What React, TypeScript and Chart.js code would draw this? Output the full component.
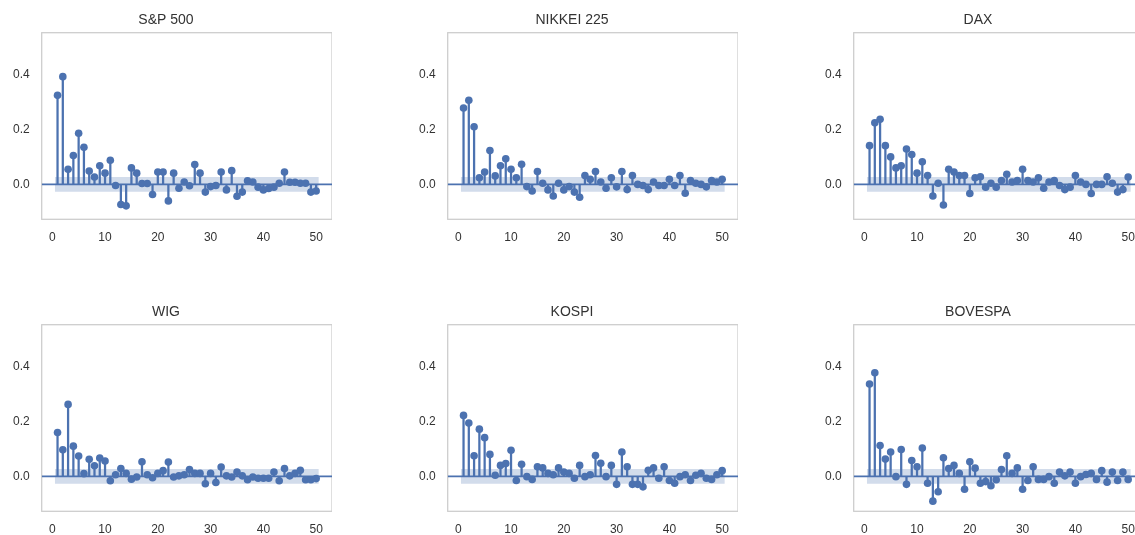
import React, { useEffect, useRef } from "react";
import { Chart, registerables } from "chart.js";

Chart.register(...registerables);

const LAGS = [
  1, 2, 3, 4, 5, 6, 7, 8, 9, 10, 11, 12, 13, 14, 15, 16, 17, 18, 19, 20, 21, 22, 23, 24, 25,
  26, 27, 28, 29, 30, 31, 32, 33, 34, 35, 36, 37, 38, 39, 40, 41, 42, 43, 44, 45, 46, 47, 48, 49, 50,
];
const X_TICKS = [0, 10, 20, 30, 40, 50];
const Y_TICKS = [0, 0.2, 0.4];
const X_RANGE = [-2, 53];
const Y_RANGE = [-0.127, 0.552];
const BAND_X = [0.5, 50.5];
const CONF = 0.027;

const SP500 = [
  0.324, 0.392, 0.055, 0.105, 0.186, 0.135, 0.049, 0.027, 0.068, 0.041,
  0.088, -0.004, -0.073, -0.078, 0.06, 0.041, 0.003, 0.003, -0.037, 0.045,
  0.045, -0.06, 0.041, -0.014, 0.009, -0.005, 0.072, 0.041, -0.028, -0.008,
  -0.004, 0.045, -0.02, 0.05, -0.043, -0.028, 0.013, 0.009, -0.01, -0.02,
  -0.015, -0.01, 0.004, 0.045, 0.008, 0.008, 0.004, 0.004, -0.028, -0.024,
];
const NIKKEI = [
  0.278, 0.306, 0.21, 0.024, 0.045, 0.123, 0.031, 0.068, 0.093, 0.055,
  0.024, 0.073, -0.008, -0.024, 0.047, 0.004, -0.02, -0.042, 0.004, -0.02,
  -0.008, -0.028, -0.047, 0.032, 0.019, 0.047, 0.009, -0.014, 0.024, -0.009,
  0.047, -0.019, 0.032, 0.0, -0.004, -0.019, 0.009, -0.004, -0.004, 0.019,
  -0.004, 0.032, -0.032, 0.014, 0.004, 0.0, -0.009, 0.014, 0.009, 0.019,
];
const DAX = [
  0.141, 0.224, 0.237, 0.141, 0.1, 0.06, 0.068, 0.129, 0.109, 0.041,
  0.082, 0.032, -0.042, 0.004, -0.075, 0.055, 0.045, 0.032, 0.032, -0.033,
  0.024, 0.028, -0.01, 0.004, -0.01, 0.014, 0.037, 0.009, 0.014, 0.055,
  0.014, 0.009, 0.024, -0.014, 0.009, 0.014, -0.004, -0.019, -0.01, 0.032,
  0.009, 0.0, -0.033, 0.0, 0.0, 0.028, 0.004, -0.028, -0.019, 0.027,
];
const WIG = [
  0.16, 0.097, 0.262, 0.11, 0.074, 0.01, 0.062, 0.039, 0.067, 0.056,
  -0.016, 0.006, 0.029, 0.011, -0.01, -0.002, 0.053, 0.006, -0.005, 0.011,
  0.021, 0.052, -0.002, 0.002, 0.006, 0.025, 0.011, 0.011, -0.027, 0.011,
  -0.022, 0.034, 0.002, -0.002, 0.016, 0.002, -0.012, -0.002, -0.007, -0.007,
  -0.007, 0.016, -0.016, 0.029, 0.002, 0.011, 0.022, -0.012, -0.012, -0.008,
];
const KOSPI = [
  0.222, 0.194, 0.075, 0.172, 0.141, 0.08, 0.004, 0.04, 0.047, 0.095,
  -0.015, 0.044, -0.001, -0.011, 0.035, 0.031, 0.011, 0.006, 0.031, 0.016,
  0.011, -0.007, 0.04, -0.001, 0.006, 0.076, 0.048, -0.001, 0.04, -0.029,
  0.089, 0.035, -0.029, -0.029, -0.038, 0.022, 0.031, -0.007, 0.035, -0.015,
  -0.025, -0.001, 0.006, -0.015, 0.004, 0.011, -0.007, -0.011, 0.006, 0.021,
];
const BOVESPA = [
  0.336, 0.377, 0.112, 0.063, 0.089, -0.001, 0.098, -0.029, 0.058, 0.035,
  0.103, -0.025, -0.09, -0.056, 0.068, 0.029, 0.04, 0.011, -0.047, 0.053,
  0.03, -0.025, -0.019, -0.034, -0.012, 0.025, 0.075, 0.011, 0.031, -0.047,
  -0.015, 0.035, -0.011, -0.011, -0.001, -0.025, 0.016, 0.002, 0.016, -0.025,
  -0.001, 0.007, 0.011, -0.011, 0.021, -0.021, 0.016, -0.015, 0.016, -0.011,
];

const BLUE = "#4c72b0";
const BAND = "rgba(76,114,176,0.25)";
const TEXT = "#333333";
const FONT = "'Liberation Sans', Arial, sans-serif";

const framePlugin = {
  id: "frame",
  beforeDatasetsDraw(chart: any) {
    const { ctx, chartArea } = chart;
    ctx.save();
    ctx.strokeStyle = "#cccccc";
    ctx.lineWidth = 1.25;
    ctx.strokeRect(chartArea.left, chartArea.top, chartArea.right - chartArea.left, chartArea.bottom - chartArea.top);
    ctx.restore();
  },
};

function Panel({ title, values, left, top }: { title: string; values: number[]; left: number; top: number }) {
  const ref = useRef<HTMLCanvasElement>(null);
  useEffect(() => {
    if (!ref.current) return;
    const pts = values.map((v, i) => ({ x: LAGS[i], y: v }));
    const chart = new Chart(ref.current, {
      type: "scatter",
      data: {
        datasets: [
          { type: "scatter", data: pts, pointRadius: 3.8, pointHoverRadius: 3.8, backgroundColor: BLUE, borderWidth: 0, order: 0 } as any,
          { type: "bar", data: pts, backgroundColor: BLUE, barThickness: 1.6, order: 1 } as any,
          { type: "line", data: X_RANGE.map((x) => ({ x, y: 0 })), borderColor: BLUE, borderWidth: 1.8, pointRadius: 0, order: 2 } as any,
          { type: "line", data: BAND_X.map((x) => ({ x, y: CONF })), borderWidth: 0, pointRadius: 0, fill: "+1", backgroundColor: BAND, order: 3 } as any,
          { type: "line", data: BAND_X.map((x) => ({ x, y: -CONF })), borderWidth: 0, pointRadius: 0, fill: false, order: 4 } as any,
        ],
      },
      options: {
        animation: false,
        responsive: false,
        events: [],
        layout: { padding: 0, autoPadding: false },
        plugins: {
          legend: { display: false },
          tooltip: { enabled: false },
          title: {
            display: true,
            text: title,
            color: TEXT,
            font: { size: 14, family: FONT, weight: "normal" as any },
            padding: { top: 11.6, bottom: 4.3 },
          },
        },
        scales: {
          x: {
            type: "linear",
            min: X_RANGE[0],
            max: X_RANGE[1],
            offset: false,
            grid: { display: false, drawTicks: false },
            border: { display: false },
            ticks: { padding: 11, color: TEXT, font: { size: 12, family: FONT } },
            afterBuildTicks: (ax: any) => {
              ax.ticks = X_TICKS.map((v) => ({ value: v }));
            },
            afterFit: (ax: any) => {
              ax.height = 30.7;
              ax.paddingLeft = 0;
              ax.paddingRight = 0;
            },
          },
          y: {
            type: "linear",
            min: Y_RANGE[0],
            max: Y_RANGE[1],
            grid: { display: false, drawTicks: false },
            border: { display: false },
            ticks: {
              padding: 12,
              color: TEXT,
              font: { size: 12, family: FONT },
              callback: (v: any) => Number(v).toFixed(1),
            },
            afterBuildTicks: (ax: any) => {
              ax.ticks = Y_TICKS.map((v) => ({ value: v }));
            },
            afterFit: (ax: any) => {
              ax.width = 41.7;
              ax.paddingTop = 0;
              ax.paddingBottom = 0;
            },
          },
        },
      } as any,
      plugins: [framePlugin],
    });
    return () => chart.destroy();
  }, [title, values]);
  return (
    <canvas
      ref={ref}
      width={332}
      height={250}
      style={{ position: "absolute", left, top, width: 332, height: 250 }}
    />
  );
}

const PANELS = [
  { title: "S&P 500", values: SP500, left: 0, top: 0 },
  { title: "NIKKEI 225", values: NIKKEI, left: 406, top: 0 },
  { title: "DAX", values: DAX, left: 812, top: 0 },
  { title: "WIG", values: WIG, left: 0, top: 292 },
  { title: "KOSPI", values: KOSPI, left: 406, top: 292 },
  { title: "BOVESPA", values: BOVESPA, left: 812, top: 292 },
];

export default function App() {
  return (
    <div style={{ position: "fixed", left: 0, top: 0, width: 1135, height: 535, overflow: "hidden", background: "#ffffff" }}>
      {PANELS.map((p) => (
        <Panel key={p.title} title={p.title} values={p.values} left={p.left} top={p.top} />
      ))}
    </div>
  );
}
